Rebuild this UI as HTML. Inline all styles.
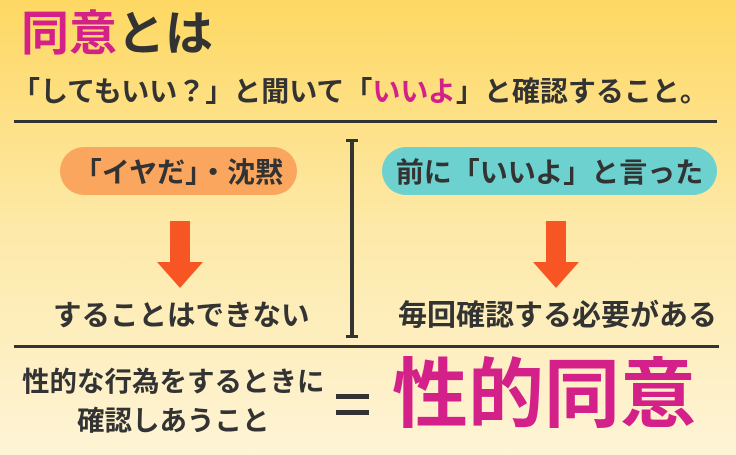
<!DOCTYPE html>
<html><head><meta charset="utf-8"><style>
*{margin:0;padding:0;box-sizing:border-box}
body{width:736px;height:455px;overflow:hidden;background:linear-gradient(#fed862,#fde9a8 50%,#fef4d6);font-family:"Liberation Sans","Noto Sans CJK JP",sans-serif;font-weight:bold;color:#333;position:relative}
.a{position:absolute;white-space:nowrap;line-height:1}
.p{color:#d4218a}
.pill{position:absolute;border-radius:24px;display:flex;align-items:center;justify-content:center;font-size:28px;color:#333}
.h{position:absolute;height:3px;background:#333}
</style></head><body>
<div class="a" style="left:21px;top:11px;font-size:48px"><span class="p">同意</span>とは</div>
<div class="a" style="left:12px;top:78px;font-size:28px">「してもいい？」と聞いて「<span class="p">いいよ</span>」と確認すること。</div>
<div class="h" style="left:14px;top:120px;width:703px"></div>
<div class="pill" style="left:60px;top:147px;width:237px;height:48px;background:#fba65e">「イヤだ」・沈黙</div>
<div class="pill" style="left:382px;top:147px;width:335px;height:48px;background:#6cd1cf">前に「いいよ」と言った</div>
<div style="position:absolute;left:350px;top:140px;width:4px;height:197px;background:#333"></div>
<div style="position:absolute;left:346px;top:139px;width:12px;height:3px;background:#333"></div>
<div style="position:absolute;left:346px;top:335px;width:12px;height:3px;background:#333"></div>
<svg style="position:absolute;left:0;top:0" width="736" height="455">
<polygon points="170,221 190,221 190,262 203,262 180,288 157,262 170,262" fill="#f75523"/>
<polygon points="546,221 566,221 566,262 579,262 556,288 533,262 546,262" fill="#f75523"/>
</svg>
<div class="a" style="left:53px;top:302px;font-size:28.5px">することはできない</div>
<div class="a" style="left:398px;top:302px;font-size:29px">毎回確認する必要がある</div>
<div class="h" style="left:14px;top:345px;width:705px"></div>
<div class="a" style="left:22px;top:368px;font-size:27.5px">性的な行為をするときに</div>
<div class="a" style="left:77px;top:407px;font-size:27.5px">確認しあうこと</div>
<div style="position:absolute;left:336px;top:394px;width:33px;height:5px;background:#333"></div>
<div style="position:absolute;left:336px;top:410px;width:33px;height:5px;background:#333"></div>
<div class="a p" style="left:392px;top:358px;font-size:76px">性的同意</div>
</body></html>
